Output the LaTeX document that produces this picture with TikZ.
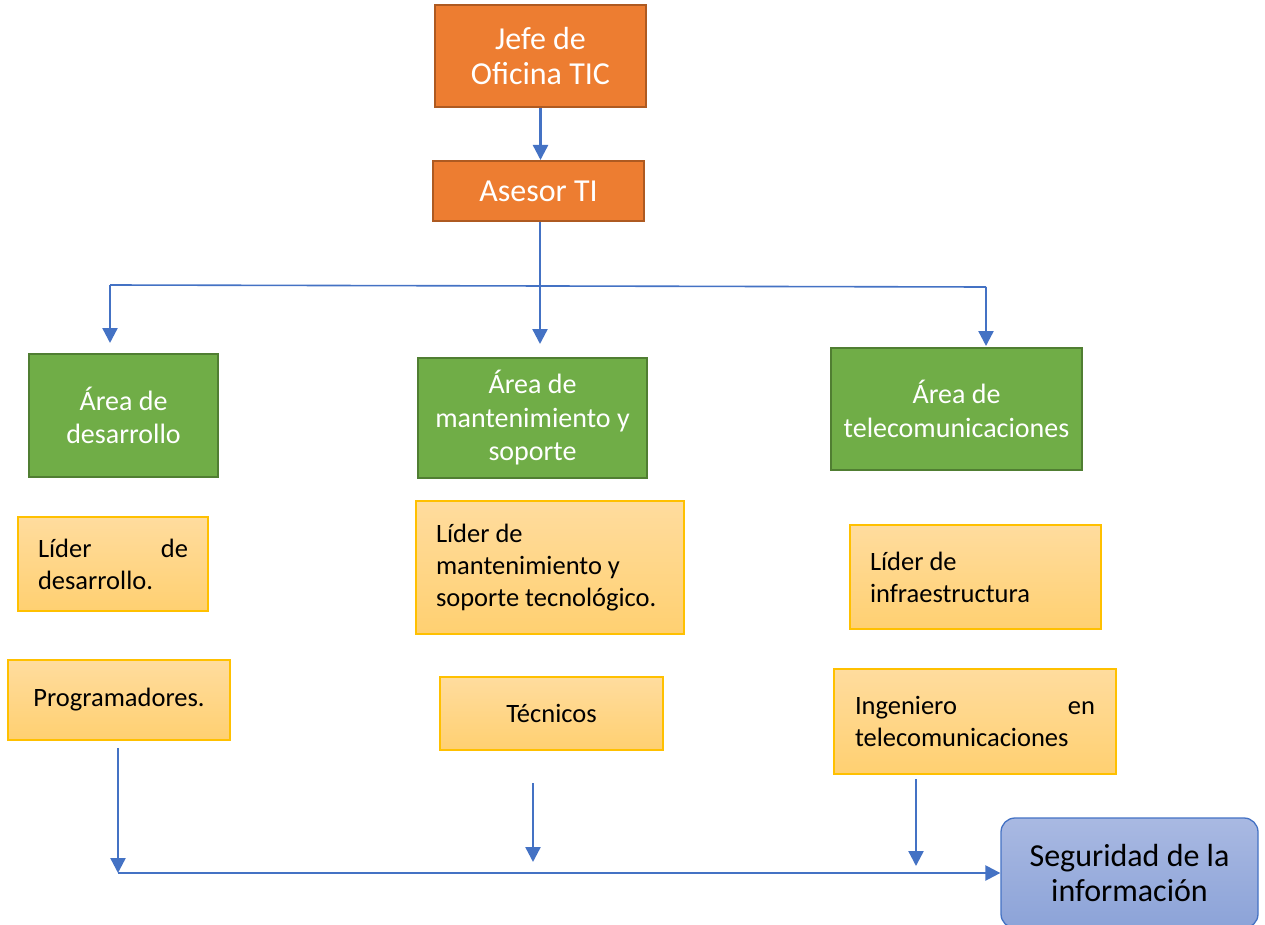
\documentclass[tikz,border=0pt]{standalone}
\usepackage{fontspec}
\setmainfont{Carlito}
\usetikzlibrary{arrows.meta}
\definecolor{orfill}{HTML}{ED7D31}
\definecolor{ordraw}{HTML}{AE5A21}
\definecolor{grfill}{HTML}{70AD47}
\definecolor{grdraw}{HTML}{507E32}
\definecolor{yetop}{HTML}{FFDC9E}
\definecolor{yebot}{HTML}{FFD071}
\definecolor{yedraw}{HTML}{FFC000}
\definecolor{bltop}{HTML}{A9B9E2}
\definecolor{blbot}{HTML}{8CA3D8}
\definecolor{bldraw}{HTML}{4472C4}
\definecolor{arr}{HTML}{4472C4}
\begin{document}
\begin{tikzpicture}[x=1pt,y=-1pt,
 orbox/.style={draw=ordraw,fill=orfill,line width=2pt,text=white,align=center,font=\fontsize{32}{35}\selectfont,inner sep=0pt},
 grbox/.style={draw=grdraw,fill=grfill,line width=2pt,text=white,align=center,font=\fontsize{28}{33.5}\selectfont,inner sep=0pt},
 yebox/.style={draw=yedraw,top color=yetop,bottom color=yebot,line width=1.3pt,font=\fontsize{26.5}{32}\selectfont,inner sep=0pt},
 blbox/.style={draw=bldraw,top color=bltop,bottom color=blbot,line width=1.3pt,rounded corners=14pt,align=center,font=\fontsize{32}{35}\selectfont,inner sep=0pt},
 arrow/.style={draw=arr,line width=2.4pt,-{Triangle[width=15pt,length=15pt]}},
 thin/.style={draw=arr,line width=1.6pt}]
\useasboundingbox (0,0) rectangle (1265,925);

% top
\node[orbox,minimum width=211pt,minimum height=102pt] (jefe) at (540.5,56) {Jefe de\\Oficina TIC};
\node[orbox,minimum width=211pt,minimum height=60pt] (asesor) at (538.5,191) {Asesor TI};
\draw[arrow] (jefe.south) -- (jefe.south |- asesor.north);

% branch
\coordinate (bL) at (110,285);
\coordinate (bM) at (540,285);
\coordinate (bR) at (986,287);
\coordinate (aL) at (110,343);
\coordinate (aM) at (540,344);
\coordinate (aR) at (986,346);
\draw[thin] (asesor.south -| bM) -- (bM);
\draw[thin] (bL) -- (bR);
\draw[arrow] (bL) -- (aL);
\draw[arrow] (bM) -- (aM);
\draw[arrow] (bR) -- (aR);

% green
\node[grbox,minimum width=189pt,minimum height=123pt] (gL) at (123.5,415.5) {Área de\\desarrollo};
\node[grbox,minimum width=229pt,minimum height=120pt] (gM) at (532.5,418) {Área de\\mantenimiento y\\soporte};
\node[grbox,minimum width=251pt,minimum height=122pt] (gR) at (956.5,409) {Área de\\telecomunicaciones};

% yellow
\node[yebox,minimum width=190pt,minimum height=94pt,text width=150pt,align=flush left] (yL1) at (113,564) {Líder\hfill de\\desarrollo.};
\node[yebox,minimum width=222pt,minimum height=80pt,align=center] (yL2) at (119,700) {Programadores.};
\node[yebox,minimum width=268pt,minimum height=133pt,text width=228pt,align=flush left] (yM1) at (550,567.5) {Líder de\\mantenimiento y\\soporte tecnológico.};
\node[yebox,minimum width=223pt,minimum height=73pt,align=center] (yM2) at (551.5,713.5) {Técnicos};
\node[yebox,minimum width=251pt,minimum height=104pt,text width=211pt,align=flush left] (yR1) at (975.5,577) {Líder de\\infraestructura};
\node[yebox,minimum width=282pt,minimum height=105pt,text width=240pt,align=flush left] (yR2) at (975,721.5) {Ingeniero\hfill en\\telecomunicaciones};

% bottom
\node[blbox,minimum width=257pt,minimum height=110pt] (seg) at (1129.5,873) {Seguridad de la\\información};
\coordinate (dL1) at (118,748);
\coordinate (dL2) at (118,873);
\coordinate (dM1) at (533,783);
\coordinate (dM2) at (533,862);
\coordinate (dR1) at (916,779);
\coordinate (dR2) at (916,866);
\draw[arrow] (dL1) -- (dL2);
\draw[arrow] (dM1) -- (dM2);
\draw[arrow] (dR1) -- (dR2);
\draw[arrow] (dL2) -- (seg.west);
\end{tikzpicture}
\end{document}
